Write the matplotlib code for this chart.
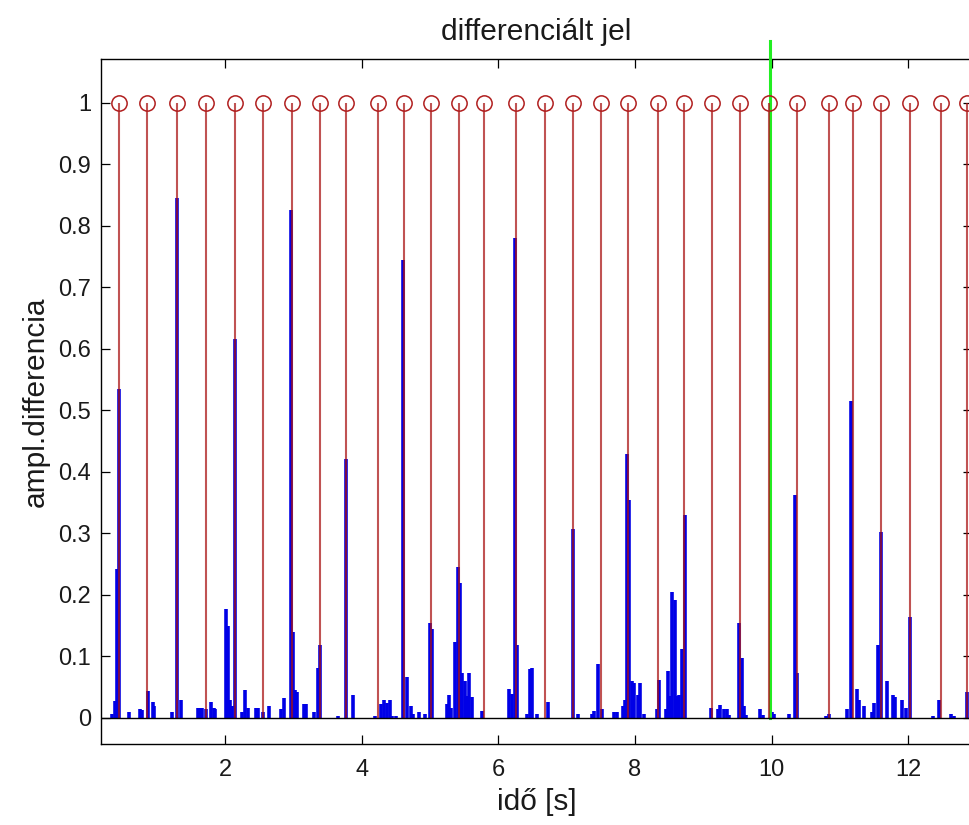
import matplotlib
matplotlib.use("Agg")
import matplotlib.pyplot as plt
import numpy as np

plt.rcParams['font.family'] = ['Liberation Sans', 'DejaVu Sans']

# red stems (detected beat positions), amplitude 1
stem_x = [0.452, 0.863, 1.302, 1.715, 2.151, 2.560, 2.974, 3.384, 3.768, 4.232,
          4.616, 5.018, 5.428, 5.786, 6.256, 6.688, 7.096, 7.496, 7.896, 8.342,
          8.722, 9.132, 9.542, 9.966, 10.364, 10.833, 11.184, 11.594, 12.030,
          12.472, 12.860]
stem_y = [1.0] * len(stem_x)

# blue differentiated signal (spike positions and amplitudes)
sig_x = [0.34, 0.39, 0.42, 0.455, 0.60, 0.75, 0.79, 0.875, 0.94, 0.965,
         1.22, 1.295, 1.36, 1.61, 1.64, 1.665, 1.72, 1.80, 1.84, 1.86,
         2.01, 2.04, 2.07, 2.10, 2.145, 2.25, 2.30, 2.33, 2.46, 2.49,
         2.56, 2.65, 2.82, 2.86, 2.965, 2.995, 3.03, 3.06, 3.16, 3.19,
         3.30, 3.355, 3.39, 3.65, 3.775, 3.88, 4.20, 4.29, 4.33, 4.37,
         4.41, 4.45, 4.50, 4.605, 4.67, 4.72, 4.75, 4.84, 4.92, 5.005,
         5.03, 5.25, 5.28, 5.31, 5.365, 5.405, 5.44, 5.47, 5.51, 5.54,
         5.575, 5.61, 5.76, 6.16, 6.20, 6.24, 6.275, 6.42, 6.46, 6.49,
         6.57, 6.72, 7.09, 7.17, 7.37, 7.40, 7.465, 7.51, 7.69, 7.73,
         7.82, 7.85, 7.88, 7.915, 7.95, 7.985, 8.05, 8.075, 8.13, 8.32,
         8.355, 8.45, 8.48, 8.51, 8.545, 8.58, 8.61, 8.645, 8.69, 8.73,
         9.11, 9.22, 9.25, 9.30, 9.35, 9.38, 9.52, 9.565, 9.595, 9.63,
         9.83, 9.87, 10.01, 10.04, 10.25, 10.34, 10.375, 10.80, 10.84, 11.10,
         11.16, 11.245, 11.28, 11.35, 11.46, 11.49, 11.55, 11.605, 11.68, 11.77,
         11.80, 11.91, 11.97, 12.02, 12.36, 12.45, 12.62, 12.66, 12.86]
sig_y = [0.007, 0.027, 0.242, 0.535, 0.010, 0.014, 0.013, 0.044, 0.026, 0.020,
         0.010, 0.845, 0.029, 0.017, 0.017, 0.017, 0.014, 0.026, 0.016, 0.014,
         0.177, 0.150, 0.029, 0.020, 0.617, 0.010, 0.046, 0.017, 0.016, 0.016,
         0.010, 0.020, 0.014, 0.032, 0.826, 0.140, 0.046, 0.042, 0.023, 0.023,
         0.010, 0.082, 0.118, 0.004, 0.421, 0.037, 0.003, 0.023, 0.030, 0.025,
         0.030, 0.004, 0.003, 0.745, 0.067, 0.020, 0.007, 0.010, 0.007, 0.154,
         0.144, 0.023, 0.037, 0.017, 0.123, 0.246, 0.219, 0.073, 0.060, 0.035,
         0.073, 0.034, 0.012, 0.047, 0.039, 0.781, 0.118, 0.007, 0.080, 0.082,
         0.007, 0.026, 0.307, 0.007, 0.007, 0.012, 0.088, 0.014, 0.010, 0.010,
         0.020, 0.029, 0.429, 0.354, 0.060, 0.057, 0.037, 0.057, 0.007, 0.014,
         0.062, 0.014, 0.076, 0.035, 0.205, 0.192, 0.035, 0.037, 0.112, 0.330,
         0.017, 0.014, 0.021, 0.015, 0.014, 0.005, 0.154, 0.098, 0.020, 0.005,
         0.014, 0.005, 0.009, 0.007, 0.007, 0.362, 0.073, 0.004, 0.006, 0.014,
         0.516, 0.047, 0.029, 0.020, 0.010, 0.025, 0.118, 0.303, 0.060, 0.037,
         0.034, 0.029, 0.017, 0.164, 0.003, 0.029, 0.007, 0.003, 0.042]

marker_x = 9.97
marker_top = 1.1

x_ticks = [2, 4, 6, 8, 10, 12]
y_ticks = [0, 0.1, 0.2, 0.3, 0.4, 0.5, 0.6, 0.7, 0.8, 0.9, 1]
y_ticklabels = ['0', '0.1', '0.2', '0.3', '0.4', '0.5', '0.6', '0.7', '0.8', '0.9', '1']

W, H = 969, 825
fig = plt.figure(figsize=(W / 100, H / 100), dpi=100)
ax = fig.add_axes([101 / W, (H - 744) / H, (972 - 101) / W, (744 - 59) / H])

text_color = '#1a1a1a'

# blue signal
ax.vlines(sig_x, 0, sig_y, color='#0000e6', lw=2.6, zorder=2)

# green marker line
ax.plot([marker_x, marker_x], [0, marker_top], color='#22ee22', lw=2.2,
        clip_on=False, zorder=3)

# red stems
ax.vlines(stem_x, 0, stem_y, color='#a81010', lw=1.5, alpha=0.72, zorder=4)
ax.plot(stem_x, stem_y, 'o', mfc='none', mec='#b01e1e', ms=11, mew=1.1,
        zorder=5, clip_on=False)

# baseline
ax.axhline(0, color='black', lw=1.0, zorder=6)

ax.set_xlim(0.186, 12.93)
ax.set_ylim(-0.0423, 1.0715)
ax.set_xticks(x_ticks)
ax.set_yticks(y_ticks)
ax.set_yticklabels(y_ticklabels)
ax.tick_params(direction='in', length=6.5, width=0.9, top=True, right=True,
               labelsize=17, labelcolor=text_color)
ax.tick_params(axis='x', pad=11)
ax.tick_params(axis='y', pad=7)
for s in ax.spines.values():
    s.set_linewidth(1.0)

ax.set_title('differenciált jel', fontsize=21.5, pad=14, color=text_color)
ax.set_xlabel('idő [s]', fontsize=21.5, labelpad=5, color=text_color)
ax.set_ylabel('ampl.differencia', fontsize=21.5, labelpad=6, color=text_color)

fig.savefig('out.png', dpi=100)
